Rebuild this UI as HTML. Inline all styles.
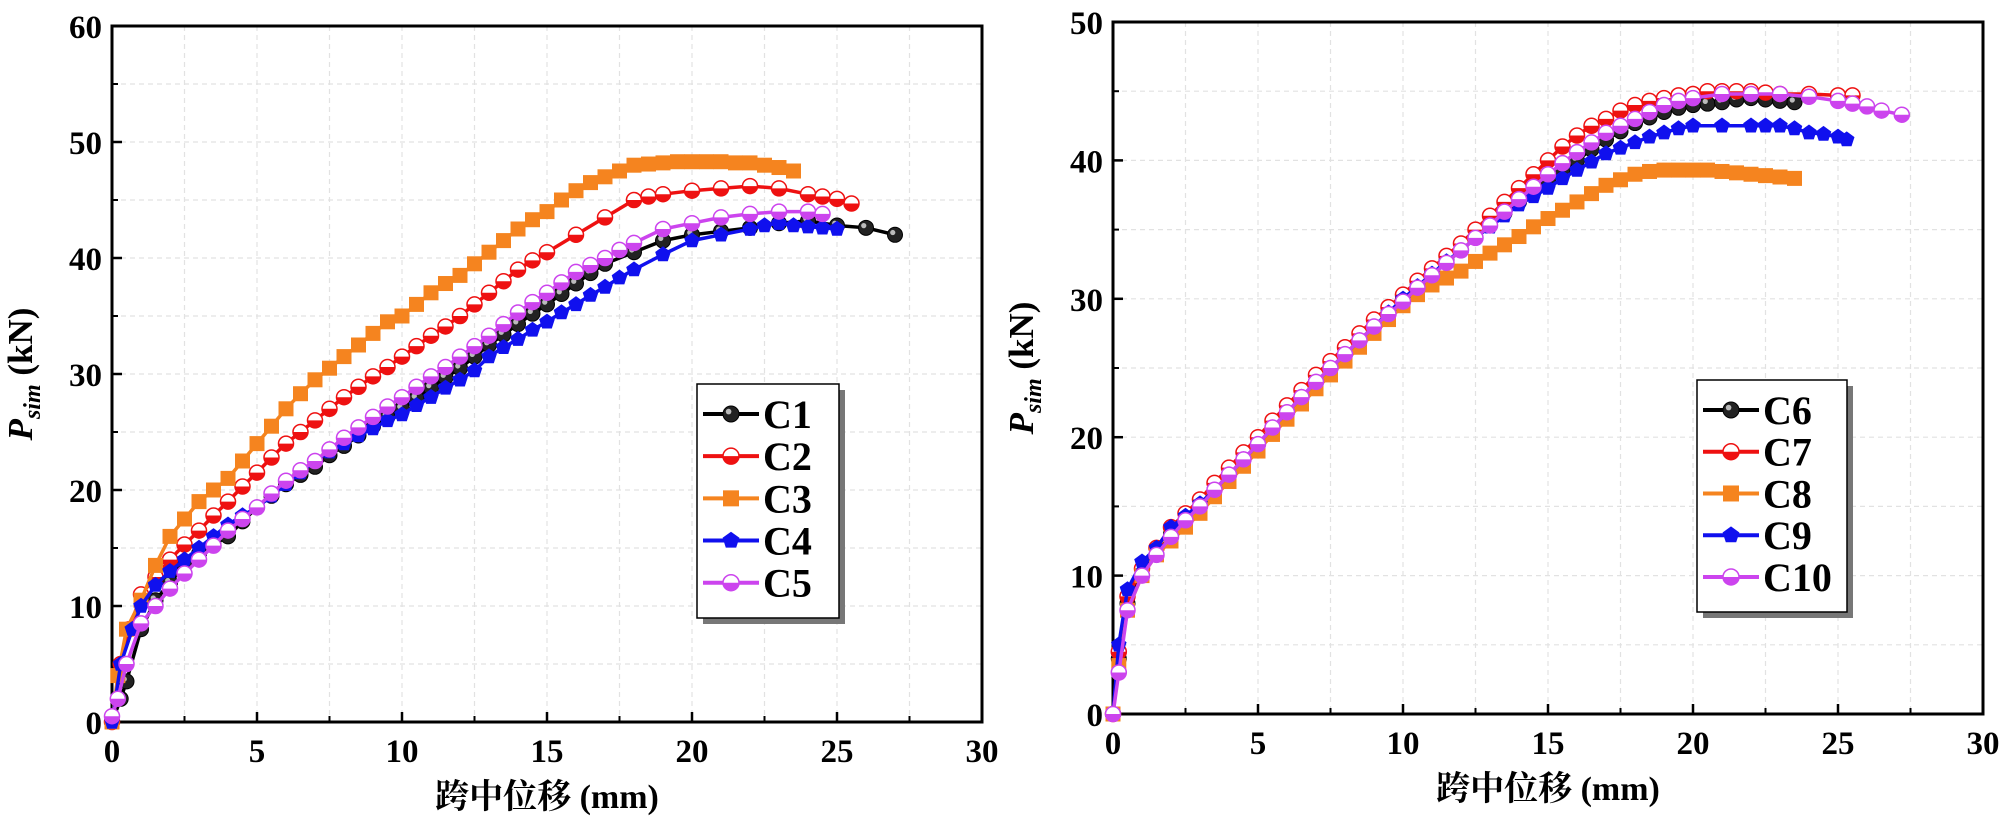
<!DOCTYPE html>
<html><head><meta charset="utf-8"><style>
html,body{margin:0;padding:0;background:#fff;}
svg{display:block;}
text{font-family:"Liberation Serif","Noto Serif CJK SC",serif;font-weight:bold;}
</style></head><body>
<svg id="svg" width="2000" height="822" viewBox="0 0 2000 822" xmlns="http://www.w3.org/2000/svg"></svg>
<script>
// ---- Left chart data ----
const xTicksL = [0,5,10,15,20,25,30];
const yTicksL = [0,10,20,30,40,50,60];
const namesL = ["C1","C2","C3","C4","C5"];
const c1x=[0,0.3,0.5,1,1.5,2,2.5,3,3.5,4,4.5,5,5.5,6,6.5,7,7.5,8,8.5,9,9.5,10,10.5,11,11.5,12,12.5,13,13.5,14,14.5,15,15.5,16,16.5,17,18,19,20,21,22,23,24,25,26,27];
const c1y=[0,2,3.5,8,10.5,12,13.5,14.5,15.3,16,17.3,18.5,19.5,20.5,21.3,22,23,23.8,24.7,25.5,26.3,27,27.9,28.8,29.7,30.5,31.5,32.5,33.4,34.3,35.2,36,36.9,37.8,38.7,39.5,40.5,41.5,42,42.3,42.6,43,43.2,42.8,42.6,42];
const c2x=[0,0.3,0.6,1,1.5,2,2.5,3,3.5,4,4.5,5,5.5,6,6.5,7,7.5,8,8.5,9,9.5,10,10.5,11,11.5,12,12.5,13,13.5,14,14.5,15,16,17,18,18.5,19,20,21,22,23,24,24.5,25,25.5];
const c2y=[0,5,8,11,12.5,14,15.3,16.5,17.8,19,20.3,21.5,22.8,24,25,26,27,28,28.9,29.8,30.6,31.5,32.4,33.3,34.1,35,36,37,38,39,39.8,40.5,42,43.5,45,45.3,45.5,45.8,46,46.2,46,45.5,45.3,45.1,44.7];
const c3x=[0,0.2,0.5,1,1.5,2,2.5,3,3.5,4,4.5,5,5.5,6,6.5,7,7.5,8,8.5,9,9.5,10,10.5,11,11.5,12,12.5,13,13.5,14,14.5,15,15.5,16,16.5,17,17.5,18,18.5,19,19.5,20,20.5,21,21.5,22,22.5,23,23.5];
const c3y=[0,4,8,10.5,13.5,16,17.5,19,20,21,22.5,24,25.5,27,28.3,29.5,30.5,31.5,32.5,33.5,34.5,35,36,37,37.8,38.5,39.5,40.5,41.5,42.5,43.3,44,45,45.8,46.5,47,47.5,48,48.1,48.2,48.3,48.3,48.3,48.3,48.2,48.2,48,47.8,47.5];
const c4x=[0,0.3,0.7,1,1.5,2,2.5,3,3.5,4,4.5,5,5.5,6,6.5,7,7.5,8,8.5,9,9.5,10,10.5,11,11.5,12,12.5,13,13.5,14,14.5,15,15.5,16,16.5,17,17.5,18,19,20,21,22,22.5,23,23.5,24,24.5,25];
const c4y=[0,5,8,10,11.8,13,14,15,16,17,17.8,18.5,19.5,20.5,21.5,22.5,23.3,24,24.7,25.3,26,26.5,27.3,28,28.8,29.5,30.3,31.5,32.3,33,33.8,34.5,35.3,36,36.8,37.5,38.3,39,40.3,41.5,42,42.5,42.8,43,42.8,42.7,42.6,42.5];
const c5x=[0,0.2,0.5,1,1.5,2,2.5,3,3.5,4,4.5,5,5.5,6,6.5,7,7.5,8,8.5,9,9.5,10,10.5,11,11.5,12,12.5,13,13.5,14,14.5,15,15.5,16,16.5,17,17.5,18,19,20,21,22,23,24,24.5];
const c5y=[0.5,2,5,8.5,10,11.5,12.8,14,15.2,16.5,17.5,18.5,19.7,20.8,21.7,22.5,23.5,24.5,25.4,26.3,27.2,28,28.9,29.8,30.6,31.5,32.4,33.3,34.3,35.3,36.2,37,37.9,38.8,39.4,40,40.7,41.3,42.5,43,43.5,43.8,44,44,43.8];
// ---- Right chart data ----
const xTicksR = [0,5,10,15,20,25,30];
const yTicksR = [0,10,20,30,40,50];
const namesR = ["C6","C7","C8","C9","C10"];
const c6x=[0,0.2,0.5,1,1.5,2,2.5,3,3.5,4,4.5,5,5.5,6,6.5,7,7.5,8,8.5,9,9.5,10,10.5,11,11.5,12,12.5,13,13.5,14,14.5,15,15.5,16,16.5,17,17.5,18,18.5,19,19.5,20,20.5,21,21.5,22,22.5,23,23.5];
const c6y=[0,4,8,10.5,11.5,13,14,15,16.2,17.3,18.4,19.5,20.7,21.8,22.9,24,25,26,27,28,29,30,30.9,31.8,32.7,33.5,34.4,35.3,36.2,37,37.8,38.5,39.3,40,40.8,41.5,42.1,42.7,43.1,43.5,43.8,44,44.1,44.2,44.4,44.5,44.4,44.3,44.2];
const c7x=[0,0.2,0.5,1,1.5,2,2.5,3,3.5,4,4.5,5,5.5,6,6.5,7,7.5,8,8.5,9,9.5,10,10.5,11,11.5,12,12.5,13,13.5,14,14.5,15,15.5,16,16.5,17,17.5,18,18.5,19,19.5,20,20.5,21,21.5,22,22.5,23,24,25,25.5];
const c7y=[0,4.5,8.5,10.5,12,13.5,14.5,15.5,16.7,17.8,18.9,20,21.2,22.3,23.4,24.5,25.5,26.5,27.5,28.5,29.4,30.3,31.3,32.2,33.1,34,35,36,37,38,39,40,41,41.8,42.5,43,43.6,44,44.3,44.5,44.7,44.8,45,45,45,45,44.9,44.8,44.8,44.7,44.7];
const c8x=[0,0.2,0.5,1,1.5,2,2.5,3,3.5,4,4.5,5,5.5,6,6.5,7,7.5,8,8.5,9,9.5,10,10.5,11,11.5,12,12.5,13,13.5,14,14.5,15,15.5,16,16.5,17,17.5,18,18.5,19,19.5,20,20.5,21,21.5,22,22.5,23,23.5];
const c8y=[0,3.5,7.5,10,11.5,12.5,13.5,14.5,15.7,16.8,17.9,19,20.2,21.3,22.4,23.5,24.5,25.5,26.5,27.5,28.5,29.5,30.3,31,31.5,32,32.7,33.3,33.9,34.5,35.2,35.8,36.4,37,37.6,38.2,38.6,39,39.2,39.3,39.3,39.3,39.3,39.2,39.1,39,38.9,38.8,38.7];
const c9x=[0,0.2,0.5,1,1.5,2,2.5,3,3.5,4,4.5,5,5.5,6,6.5,7,7.5,8,8.5,9,9.5,10,10.5,11,11.5,12,12.5,13,13.5,14,14.5,15,15.5,16,16.5,17,17.5,18,18.5,19,19.5,20,21,22,22.5,23,23.5,24,24.5,25,25.3];
const c9y=[0,5,9,11,12,13.5,14.3,15.2,16.2,17.3,18.4,19.5,20.7,21.8,22.9,24,25,26,27,28,29,30,30.9,31.8,32.7,33.5,34.4,35.2,36,36.8,37.4,38,38.7,39.3,39.9,40.5,40.9,41.3,41.7,42,42.3,42.5,42.5,42.5,42.5,42.5,42.3,42,41.9,41.7,41.5];
const c10x=[0,0.2,0.5,1,1.5,2,2.5,3,3.5,4,4.5,5,5.5,6,6.5,7,7.5,8,8.5,9,9.5,10,10.5,11,11.5,12,12.5,13,13.5,14,14.5,15,15.5,16,16.5,17,17.5,18,18.5,19,19.5,20,21,22,23,24,25,25.5,26,26.5,27.2];
const c10y=[0,3,7.5,10,11.5,12.8,14,15,16.2,17.3,18.4,19.5,20.7,21.8,22.9,24,25,26,27,28,28.9,29.8,30.8,31.7,32.6,33.5,34.4,35.3,36.3,37.2,38.1,39,39.8,40.6,41.3,42,42.5,43,43.5,44,44.3,44.5,44.8,44.8,44.8,44.6,44.3,44.1,43.9,43.6,43.3];

const svg=document.getElementById('svg');
const NS="http://www.w3.org/2000/svg";
function mk(tag,attrs,parent){const e=document.createElementNS(NS,tag);for(const k in attrs)e.setAttribute(k,attrs[k]);(parent||svg).appendChild(e);return e;}

const colors=["#000000","#ee1111","#f5841f","#1010ee","#cc44ee"];
const shapes=["sphere","halfc","square","pent","halfd"];

function marker(g,shape,col,x,y,r){
  if(shape==="square"){const m=mk('rect',{x:x-r,y:y-r,width:2*r,height:2*r,fill:col},g);return;}
  if(shape==="pent"){let p=[];for(let i=0;i<5;i++){const a=-Math.PI/2+i*2*Math.PI/5;p.push((x+r*1.1*Math.cos(a)).toFixed(1)+","+(y+r*1.1*Math.sin(a)).toFixed(1));}
    const m=mk('polygon',{points:p.join(" "),fill:col},g);return;}
  if(shape==="sphere"){const m=mk('circle',{cx:x,cy:y,r:r,fill:"#222",stroke:"#000","stroke-width":1},g);
    mk('circle',{cx:x-r*0.3,cy:y-r*0.3,r:r*0.35,fill:"#bbb"},g);return;}
  const m=mk('circle',{cx:x,cy:y,r:r,fill:"#fff",stroke:col,"stroke-width":1.5},g);
  mk('path',{d:`M${x-r},${y} A${r},${r} 0 0 0 ${x+r},${y} Z`,fill:col},g);
}

function chart(cfg){
  const {x0,x1,y0,y1,xmax,ymax,xTicks,yTicks,series,names,leg,pre}=cfg;
  const sx=v=>x0+(x1-x0)*v/xmax, sy=v=>y0-(y0-y1)*v/ymax;
  const g=mk('g',{});
  for(let v=xmax/12;v<xmax;v+=xmax/12){const l=mk('line',{x1:sx(v),x2:sx(v),y1:y1,y2:y0,stroke:"#e2e2e2","stroke-width":1.2,"stroke-dasharray":"5,4"},g);}
  const yStep=yTicks[1]-yTicks[0];
  for(let v=yStep/2;v<ymax;v+=yStep/2){const l=mk('line',{x1:x0,x2:x1,y1:sy(v),y2:sy(v),stroke:"#e2e2e2","stroke-width":1.2,"stroke-dasharray":"5,4"},g);}
  const fr=mk('rect',{x:x0,y:y1,width:x1-x0,height:y0-y1,fill:"none",stroke:"#000","stroke-width":3},g);
  xTicks.forEach(v=>{mk('line',{x1:sx(v),x2:sx(v),y1:y0,y2:y0-10,stroke:"#000","stroke-width":2.5},g);
    const t=mk('text',{x:sx(v),y:y0+40,"text-anchor":"middle","font-size":33},g);t.textContent=v;});
  for(let i=0;i<xTicks.length-1;i++){const v=(xTicks[i]+xTicks[i+1])/2;mk('line',{x1:sx(v),x2:sx(v),y1:y0,y2:y0-6,stroke:"#000","stroke-width":2},g);}
  yTicks.forEach(v=>{mk('line',{x1:x0,x2:x0+10,y1:sy(v),y2:sy(v),stroke:"#000","stroke-width":2.5},g);
    const t=mk('text',{x:x0-10,y:sy(v)+12,"text-anchor":"end","font-size":33},g);t.textContent=v;});
  for(let i=0;i<yTicks.length-1;i++){const v=(yTicks[i]+yTicks[i+1])/2;mk('line',{x1:x0,x2:x0+6,y1:sy(v),y2:sy(v),stroke:"#000","stroke-width":2},g);}
  const xt=mk('text',{x:(x0+x1)/2,y:y0+86,"text-anchor":"middle","font-size":34},g);xt.textContent="跨中位移 (mm)";
  const yc=(y0+y1)/2;
  const yt=mk('text',{x:0,y:0,"text-anchor":"middle","font-size":35,transform:`translate(${x0-80},${yc}) rotate(-90)`},g);
  
  const ts1=mk('tspan',{"font-style":"italic"},yt);ts1.textContent="P";
  const ts2=mk('tspan',{"font-style":"italic","font-size":24,dy:8},yt);ts2.textContent="sim";
  const ts3=mk('tspan',{dy:-8},yt);ts3.textContent=" (kN)";
  series.forEach((s,i)=>{
    const sg=mk('g',{},g);
    const pts=s[0].map((v,j)=>sx(v).toFixed(1)+","+sy(s[1][j]).toFixed(1)).join(" ");
    const pl=mk('polyline',{points:pts,fill:"none",stroke:colors[i],"stroke-width":3.5},sg);
    s[0].forEach((v,j)=>marker(sg,shapes[i],colors[i],sx(v),sy(s[1][j]),7.5));
  });
  const lg=mk('g',{},g);
  mk('rect',{x:leg.x+6,y:leg.y+6,width:leg.w,height:leg.h,fill:"#777"},lg);
  mk('rect',{x:leg.x,y:leg.y,width:leg.w,height:leg.h,fill:"#fff",stroke:"#000","stroke-width":1.5},lg);
  names.forEach((n,i)=>{
    const ey=leg.y+30+i*(leg.h-40)/4.6;
    const eg=mk('g',{},lg);
    mk('line',{x1:leg.x+6,x2:leg.x+62,y1:ey,y2:ey,stroke:colors[i],"stroke-width":4},eg);
    marker(eg,shapes[i],colors[i],leg.x+34,ey,8);
    const t=mk('text',{x:leg.x+66,y:ey+14,"font-size":40},eg);t.textContent=n;
  });
}

chart({x0:112,x1:982,y0:722,y1:26,xmax:30,ymax:60,xTicks:xTicksL,yTicks:yTicksL,
  series:[[c1x,c1y],[c2x,c2y],[c3x,c3y],[c4x,c4y],[c5x,c5y]],names:namesL,
  leg:{x:697,y:384,w:142,h:234},pre:'left'});
chart({x0:1113,x1:1983,y0:714,y1:22,xmax:30,ymax:50,xTicks:xTicksR,yTicks:yTicksR,
  series:[[c6x,c6y],[c7x,c7y],[c8x,c8y],[c9x,c9y],[c10x,c10y]],names:namesR,
  leg:{x:1697,y:380,w:150,h:232},pre:'right'});
</script>
</body></html>
